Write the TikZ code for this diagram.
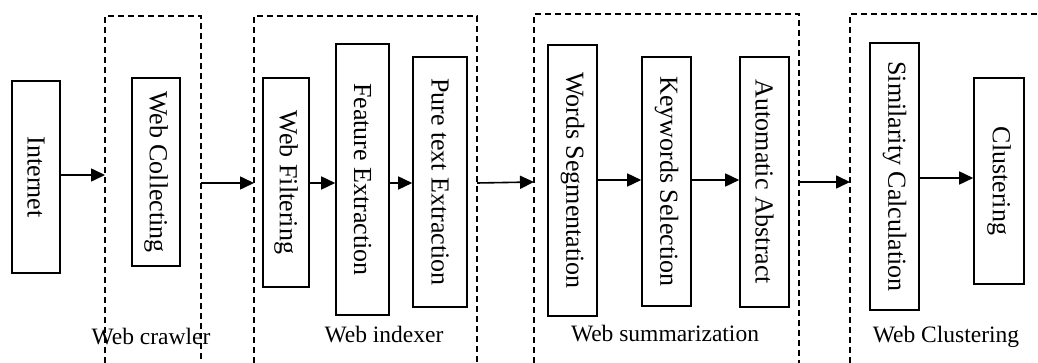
\documentclass[tikz,border=0pt]{standalone}
\usepackage{fontspec}
\setmainfont{Liberation Serif}
\usetikzlibrary{arrows.meta}
\tikzset{
  box/.style={draw, line width=1.6pt, inner sep=0pt, fill=white},
  grp/.style={line width=1.5pt, dash pattern=on 6pt off 4pt},
  arr/.style={line width=1.6pt, -{Triangle[length=14pt,width=13pt]}},
  lbl/.style={inner sep=0pt, font=\fontsize{23.5}{26}\selectfont}
}
\newcommand{\bt}[1]{\rotatebox{-90}{\fontsize{26}{30}\selectfont #1}}
\begin{document}
\begin{tikzpicture}[x=1pt,y=-1pt]
\useasboundingbox (0,0) rectangle (1038,363);
% group frames (open at the bottom)
\draw[grp] (105,363) |- (201,16) -- (201,363);
\draw[grp] (254,363) |- (477,16) -- (477,363);
\draw[grp] (534,363) |- (799,14) -- (799,363);
\draw[grp] (850,363) |- (1038,14);
\coordinate (crL) at (105,175);
\coordinate (crR) at (201,183);
\coordinate (ixL) at (254,183);
\coordinate (ixR) at (477,183);
\coordinate (smL) at (534,182);
\coordinate (smR) at (799,182);
\coordinate (clL) at (850,182);
% boxes
\node[box, minimum width=48pt, minimum height=192pt] (inet) at (36,177) {\bt{Internet}};
\node[box, minimum width=48pt, minimum height=188pt] (coll) at (156,172) {\bt{Web Collecting}};
\node[box, minimum width=46pt, minimum height=209pt] (filt) at (286,182.5) {\bt{Web Filtering}};
\node[box, minimum width=53pt, minimum height=271pt] (feat) at (362.5,179.5) {\bt{Feature Extraction}};
\node[box, minimum width=54pt, minimum height=250pt] (pure) at (440,182) {\bt{Pure text Extraction}};
\node[box, minimum width=49pt, minimum height=271pt] (seg) at (572.5,180.5) {\bt{Words Segmentation}};
\node[box, minimum width=49pt, minimum height=249pt] (key) at (666.5,181.5) {\bt{Keywords Selection}};
\node[box, minimum width=49pt, minimum height=250pt] (abs) at (764.5,182) {\bt{Automatic Abstract}};
\node[box, minimum width=49pt, minimum height=267pt] (sim) at (894.5,176.5) {\bt{Similarity Calculation}};
\node[box, minimum width=50pt, minimum height=206pt] (clu) at (999,181) {\bt{Clustering}};
% labels
\node[lbl] (l1) at (151,337) {Web crawler};
\node[lbl] (l2) at (384,335) {Web indexer};
\node[lbl] (l3) at (665,334) {Web summarization};
\node[lbl] (l4) at (946,337) {Web Clustering};
% arrows
\draw[arr] (inet.east |- crL) -- (crL);
\draw[arr] (crR) -- (ixL);
\draw[arr] (filt.east |- 0,183) -- (feat.west |- 0,183);
\draw[arr] (feat.east |- 0,183) -- (pure.west |- 0,183);
\draw[arr] (ixR) -- (smL);
\draw[arr] (seg.east |- 0,180) -- (key.west |- 0,180);
\draw[arr] (key.east |- 0,180) -- (abs.west |- 0,180);
\draw[arr] (smR) -- (clL);
\draw[arr] (sim.east |- 0,178) -- (clu.west |- 0,178);
\end{tikzpicture}
\end{document}
